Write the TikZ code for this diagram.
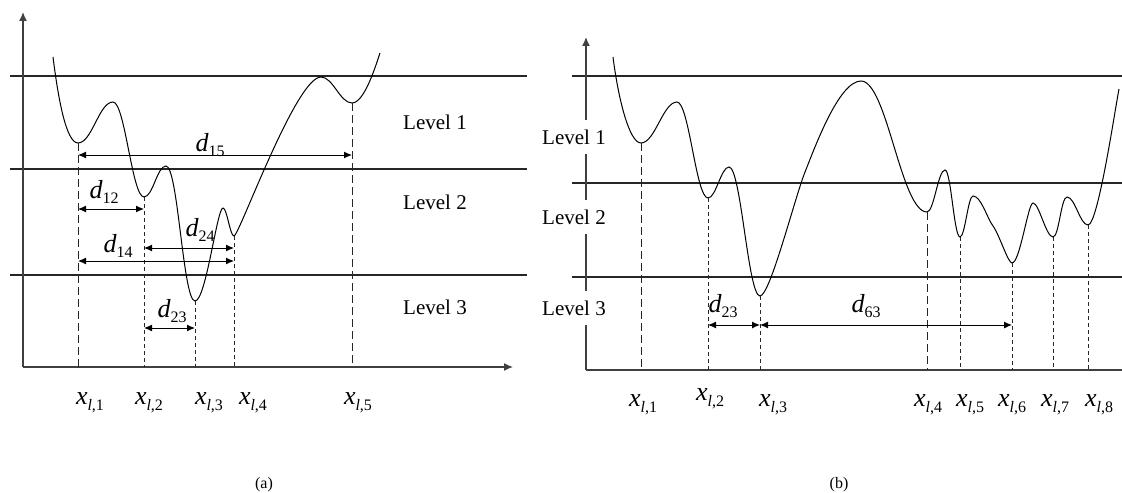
\documentclass[tikz,border=0pt]{standalone}
\usepackage{fontspec}
\setmainfont{Liberation Serif}
\usetikzlibrary{arrows.meta, calc}

\newcommand{\dlab}[1]{{\fontsize{13}{15}\selectfont\itshape d}\raisebox{-0.6ex}{\fontsize{8}{9}\selectfont #1}}
\newcommand{\xlab}[1]{{\fontsize{13}{15}\selectfont\itshape x}\raisebox{-0.6ex}{\fontsize{8}{9}\selectfont\textit{l},#1}}

\begin{document}
\begin{tikzpicture}[
    x=0.5pt, y=-0.5pt,
    levelline/.style={line width=0.6pt, black!85},
    axisline/.style={line width=0.7pt, black!75},
    axisarrow/.style={axisline, -{Latex[length=4.5pt,width=4pt]}},
    curve/.style={line width=0.5pt},
    droplong/.style={line width=0.5pt, black!85, dash pattern=on 4pt off 2pt},
    dropshort/.style={line width=0.5pt, black!85, dash pattern=on 2pt off 1.5pt},
    dimarrow/.style={line width=0.5pt,
                     {Latex[length=4pt,width=3.5pt]}-{Latex[length=4pt,width=3.5pt]}},
    lvl/.style={font=\fontsize{10.5}{12}\selectfont, inner sep=1pt},
    lvlb/.style={lvl, fill=white, inner xsep=2pt, inner ysep=5pt},
    dnode/.style={inner sep=0pt},
    xnode/.style={inner sep=0pt},
    caplab/.style={font=\fontsize{8}{9}\selectfont},
]
\useasboundingbox (0,0) rectangle (1122,492);

% --- panel (a) ---
\draw[levelline] (10,76) -- (527,76);
\draw[levelline] (10,169) -- (527,169);
\draw[levelline] (10,275) -- (527,275);
\coordinate (a-o) at (23,367);
\coordinate (a-ytip) at (23,12);
\coordinate (a-xtip) at (513,367);
\draw[axisarrow] (a-o) -- (a-ytip);
\draw[axisarrow] (a-o) -- (a-xtip);

\coordinate (a-m1) at (78,143);
\coordinate (a-m2) at (144,197);
\coordinate (a-m3) at (195,301);
\coordinate (a-m4) at (234,236);
\coordinate (a-m5) at (352,103);

\draw[curve] (53,57) .. controls +(5,40) and +(-12,0) .. (a-m1)
    .. controls +(14,0) and +(-14,0) .. (113,102)
    .. controls +(12,0) and +(-12,0) .. (a-m2)
    .. controls +(9,0) and +(-9,0) .. (166,166)
    .. controls +(12,0) and +(-12,0) .. (a-m3)
    .. controls +(11,0) and +(-6,0) .. (223,208)
    .. controls +(4,0) and +(-4,0) .. (a-m4)
    .. controls +(5,0) and +(-25,0) .. (321,77)
    .. controls +(12,0) and +(-12,0) .. (a-m5)
    .. controls +(12,0) and +(-5,15) .. (380,53);

\draw[droplong] (a-m1) -- (a-m1 |- a-o);
\draw[dropshort] (a-m2) -- (a-m2 |- a-o);
\draw[dropshort] (a-m3) -- (a-m3 |- a-o);
\draw[dropshort] (a-m4) -- (a-m4 |- a-o);
\draw[droplong] (a-m5) -- (a-m5 |- a-o);

\draw[dimarrow] (a-m1 |- 0,155) -- (a-m5 |- 0,155);
\draw[dimarrow] (a-m1 |- 0,209) -- (a-m2 |- 0,209);
\draw[dimarrow] (a-m2 |- 0,248) -- (a-m4 |- 0,248);
\draw[dimarrow] (a-m1 |- 0,261) -- (a-m4 |- 0,261);
\draw[dimarrow] (a-m2 |- 0,328) -- (a-m3 |- 0,328);
\node[dnode] (a-d15) at (210,145) {\dlab{15}};
\node[dnode] (a-d12) at (104,192) {\dlab{12}};
\node[dnode] (a-d24) at (200,230) {\dlab{24}};
\node[dnode] (a-d14) at (118,246) {\dlab{14}};
\node[dnode] (a-d23) at (172,311) {\dlab{23}};

\node[lvl] (a-l1) at (435,122) {Level 1};
\node[lvl] (a-l2) at (435,202) {Level 2};
\node[lvl] (a-l3) at (435,307) {Level 3};

\node[xnode] (a-x1) at (90,403) {\xlab{1}};
\node[xnode] (a-x2) at (149,403) {\xlab{2}};
\node[xnode] (a-x3) at (209,403) {\xlab{3}};
\node[xnode] (a-x4) at (253,403) {\xlab{4}};
\node[xnode] (a-x5) at (358,403) {\xlab{5}};
\node[caplab] (a-cap) at (264,485) {(a)};

% --- panel (b) ---
\draw[levelline] (572,76) -- (1122,76);
\draw[levelline] (572,183) -- (1122,183);
\draw[levelline] (572,277) -- (1122,277);
\coordinate (b-o) at (586,370);
\coordinate (b-ytip) at (586,37);
\coordinate (b-xend) at (1122,370);
\draw[axisarrow] (b-o) -- (b-ytip);
\draw[axisline] (b-o) -- (b-xend);

\coordinate (b-m1) at (641,143);
\coordinate (b-m2) at (708,198);
\coordinate (b-m3) at (760,296);
\coordinate (b-m4) at (927,212);
\coordinate (b-m5) at (960,237);
\coordinate (b-m6) at (1012,263);
\coordinate (b-m7) at (1053,237);
\coordinate (b-m8) at (1088,225);

\draw[curve] (613,57) .. controls +(5,40) and +(-12,0) .. (b-m1)
    .. controls +(14,0) and +(-14,0) .. (677,102)
    .. controls +(12,0) and +(-12,0) .. (b-m2)
    .. controls +(8,0) and +(-8,0) .. (729,167)
    .. controls +(12,0) and +(-12,0) .. (b-m3)
    .. controls +(10,0) and +(-10,25) .. (805,172)
    .. controls +(10,-25) and +(-22,0) .. (861,81)
    .. controls +(26,0) and +(-26,0) .. (b-m4)
    .. controls +(7,0) and +(-7,0) .. (945,170)
    .. controls +(6,0) and +(-6,0) .. (b-m5)
    .. controls +(5,0) and +(-5,0) .. (973,196)
    .. controls +(8,0) and +(-6,-8) .. (993,226)
    .. controls +(6,8) and +(-4,0) .. (b-m6)
    .. controls +(8,0) and +(-5,0) .. (1033,203)
    .. controls +(6,0) and +(-7,0) .. (b-m7)
    .. controls +(6,0) and +(-6,0) .. (1067,197)
    .. controls +(8,0) and +(-8,0) .. (b-m8)
    .. controls +(10,0) and +(-4,20) .. (1119,89);

\draw[droplong] (b-m1) -- (b-m1 |- b-o);
\draw[dropshort] (b-m2) -- (b-m2 |- b-o);
\draw[dropshort] (b-m3) -- (b-m3 |- b-o);
\draw[droplong] (b-m4) -- (b-m4 |- b-o);
\draw[dropshort] (b-m5) -- (b-m5 |- b-o);
\draw[dropshort] (b-m6) -- (b-m6 |- b-o);
\draw[dropshort] (b-m7) -- (b-m7 |- b-o);
\draw[dropshort] (b-m8) -- (b-m8 |- b-o);

\draw[dimarrow] (b-m2 |- 0,325) -- (b-m3 |- 0,325);
\draw[dimarrow] (b-m3 |- 0,325) -- (b-m6 |- 0,325);
\node[dnode] (b-d23) at (723,306) {\dlab{23}};
\node[dnode] (b-d63) at (866,306) {\dlab{63}};

\node[lvlb] (b-l1) at (574,137) {Level 1};
\node[lvlb] (b-l2) at (574,217) {Level 2};
\node[lvlb] (b-l3) at (574,308) {Level 3};

\node[xnode] (b-x1) at (643,405) {\xlab{1}};
\node[xnode] (b-x2) at (710,399) {\xlab{2}};
\node[xnode] (b-x3) at (773,405) {\xlab{3}};
\node[xnode] (b-x4) at (928,405) {\xlab{4}};
\node[xnode] (b-x5) at (970,405) {\xlab{5}};
\node[xnode] (b-x6) at (1012,405) {\xlab{6}};
\node[xnode] (b-x7) at (1055,405) {\xlab{7}};
\node[xnode] (b-x8) at (1099,405) {\xlab{8}};
\node[caplab] (b-cap) at (839,485) {(b)};
\end{tikzpicture}
\end{document}
